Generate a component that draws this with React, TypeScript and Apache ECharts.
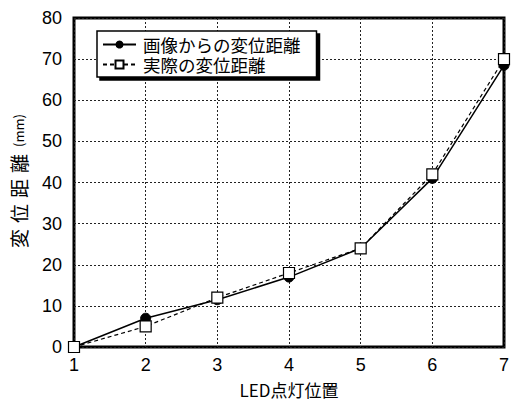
import React, { useEffect, useRef } from "react";
import * as echarts from "echarts";

const positions = [1, 2, 3, 4, 5, 6, 7];
const imageDisp = [0, 7, 11.5, 17, 24, 41, 68.5];
const actualDisp = [0, 5, 12, 18, 24, 42, 70];
const seriesNames = ["画像からの変位距離", "実際の変位距離"];
const yTitleChars = ["変", "位", "距", "離"];

export default function App() {
  const ref = useRef<HTMLDivElement>(null);
  useEffect(() => {
    if (!ref.current) return;
    const chart = echarts.init(ref.current, null, { renderer: "svg" });
    const jp = "'Noto Sans CJK JP', sans-serif";
    const num = "'Liberation Sans', Arial, sans-serif";
    chart.setOption({
      animation: false,
      backgroundColor: "#fff",
      grid: { left: 74, right: 4, top: 18, bottom: 50, show: true, borderColor: "#000", borderWidth: 3 },
      legend: {
        left: 97,
        top: 31,
        orient: "vertical",
        data: seriesNames,
        itemWidth: 33,
        itemHeight: 10,
        itemGap: 1,
        padding: [4, 16, 3, 5],
        backgroundColor: "#fff",
        borderColor: "#000",
        borderWidth: 1.5,
        borderRadius: 0,
        shadowColor: "#000",
        shadowBlur: 0,
        shadowOffsetX: 3,
        shadowOffsetY: 3,
        textStyle: { fontFamily: jp, fontSize: 17.5, lineHeight: 19, color: "#000", padding: [0, 0, 0, 2] },
      },
      xAxis: {
        type: "value",
        min: 1,
        max: 7,
        interval: 1,
        name: "LED点灯位置",
        nameLocation: "middle",
        nameGap: 34,
        nameTextStyle: { fontFamily: jp, fontSize: 17, color: "#000" },
        axisLine: { show: false },
        axisTick: { show: false },
        axisLabel: { fontFamily: num, fontSize: 18, color: "#000", margin: 9 },
        splitLine: { show: true, lineStyle: { color: "#222", type: [2, 2], width: 1 } },
      },
      yAxis: {
        type: "value",
        min: 0,
        max: 80,
        interval: 10,
        name: yTitleChars.map((c) => "{a|" + c + "}").join("") + "{b|(mm)}",
        nameLocation: "middle",
        nameGap: 46,
        nameTextStyle: {
          rich: {
            a: { fontFamily: jp, fontSize: 19, color: "#000", padding: [0, 3, 0, 3] },
            b: { fontFamily: jp, fontSize: 13, color: "#000", padding: [0, 0, 0, 4] },
          },
        },
        axisLine: { show: false },
        axisTick: { show: false },
        axisLabel: { fontFamily: num, fontSize: 18, color: "#000", margin: 12 },
        splitLine: { show: true, lineStyle: { color: "#222", type: [2, 2], width: 1 } },
      },
      series: [
        {
          name: seriesNames[0],
          type: "line",
          data: positions.map((x, i) => [x, imageDisp[i]]),
          symbol: "circle",
          symbolSize: 10,
          itemStyle: { color: "#000", borderColor: "#000" },
          lineStyle: { color: "#000", width: 1.5, type: "solid" },
          z: 3,
        },
        {
          name: seriesNames[1],
          type: "line",
          data: positions.map((x, i) => [x, actualDisp[i]]),
          symbol: "rect",
          symbolSize: 11,
          itemStyle: { color: "#fff", borderColor: "#000", borderWidth: 1.2 },
          lineStyle: { color: "#000", width: 1.2, type: [4, 3] },
          z: 4,
        },
      ],
    });
    return () => chart.dispose();
  }, []);
  return <div ref={ref} style={{ width: 512, height: 403, position: "absolute", left: 0, top: 0 }} />;
}
